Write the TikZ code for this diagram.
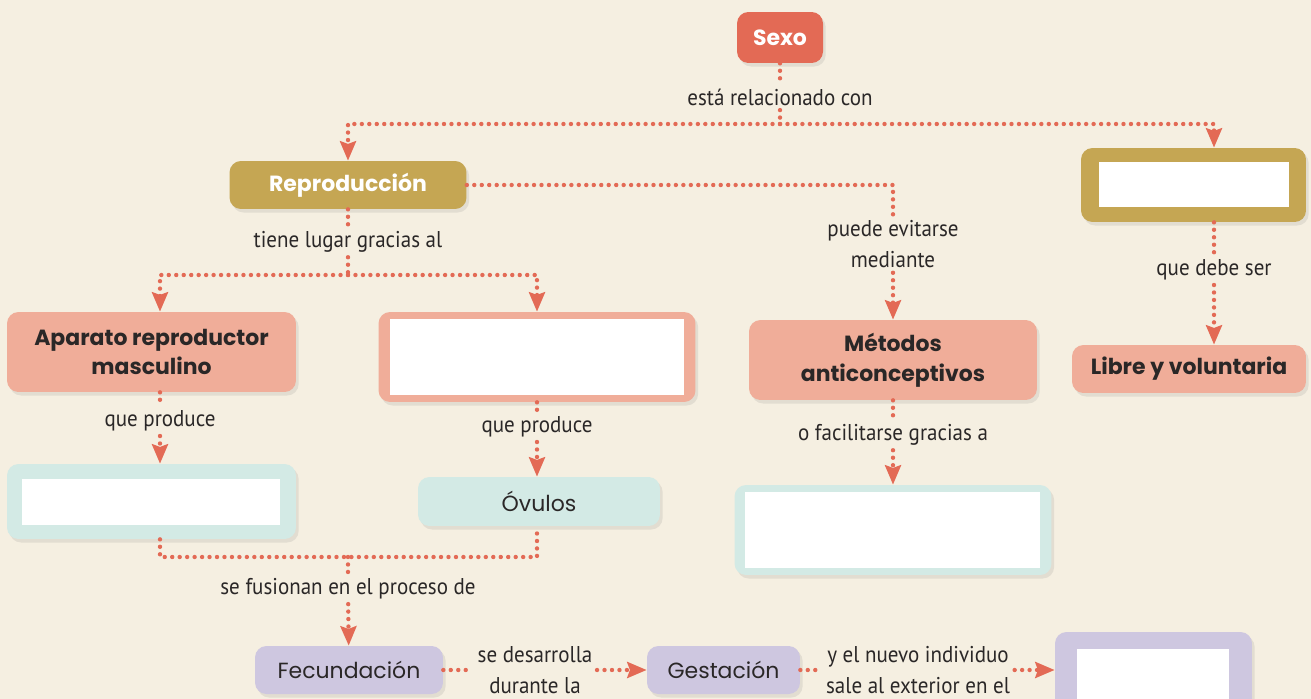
\documentclass[tikz,border=0pt]{standalone}
\usepackage{fontspec}
\setmainfont{Poppins}
\newfontfamily\labelfont[FakeStretch=0.92]{PT Sans}
\definecolor{MAPcream}{HTML}{F5EFE1}
\definecolor{MAPcoral}{HTML}{E36A55}
\definecolor{MAPgold}{HTML}{C5A653}
\definecolor{MAPsalmon}{HTML}{F0AD99}
\definecolor{MAPmint}{HTML}{D3EAE5}
\definecolor{MAPlilac}{HTML}{CEC7E0}
\definecolor{MAPink}{HTML}{2A2727}
\usetikzlibrary{arrows.meta, shadows}
\newcommand\boxtext{\fontsize{12.5}{17}\selectfont}
\newcommand\labeltext{\labelfont\fontsize{13}{18}\selectfont}
\tikzset{
   box/.style={rounded corners=6.5pt, inner sep=0pt, align=center, text=MAPink,
      font=\boxtext, drop shadow={opacity=0.16, shadow xshift=1.5pt, shadow yshift=-2pt}},
   blank/.style={fill=white, inner sep=0pt},
   lab/.style={font=\labeltext, text=MAPink, align=center, inner sep=2.5pt},
   dots/.style={MAPcoral, line width=2.5pt, line cap=round, dash pattern=on 0pt off 4.25pt},
   tip/.style={-{Stealth[length=11pt, width=9pt, inset=1.5pt]}}
}

\begin{document}
\begin{tikzpicture}[x=0.02cm, y=-0.02cm]
   \fill[MAPcream] (0,0) rectangle (1311,699);
   \useasboundingbox (0,0) rectangle (1311,699);
   % concept boxes
   \node[box, fill=MAPcoral, text=white, font=\boxtext\bfseries,
      minimum width=1.72cm, minimum height=1.02cm] (sexo) at (780,37.5) {Sexo};
   \node[box, fill=MAPgold, text=white, font=\boxtext\bfseries,
      minimum width=4.74cm, minimum height=0.96cm] (repro) at (348,185) {Reproducción};
   \node[box, fill=MAPgold, minimum width=4.5cm, minimum height=1.48cm] (salud) at (1193.5,185) {};
   \node[blank, minimum width=3.8cm, minimum height=0.9cm] (saludin) at (1194,184.5) {};
   \node[box, fill=MAPsalmon, font=\boxtext\bfseries,
      minimum width=4.68cm, minimum height=0.96cm] (libre) at (1189,369) {Libre y voluntaria};
   \node[box, fill=MAPsalmon, font=\boxtext\bfseries,
      minimum width=5.78cm, minimum height=1.6cm] (aparato) at (151.5,352) {Aparato reproductor\\masculino};
   \node[box, fill=MAPsalmon, minimum width=6.34cm, minimum height=1.8cm] (femen) at (537,357) {};
   \node[blank, minimum width=5.9cm, minimum height=1.52cm] (femenin) at (537,357) {};
   \node[box, fill=MAPsalmon, font=\boxtext\bfseries,
      minimum width=5.76cm, minimum height=1.6cm] (metodos) at (893,360) {Métodos\\anticonceptivos};
   \node[box, fill=MAPmint, minimum width=5.78cm, minimum height=1.5cm] (esperm) at (151.5,501.5) {};
   \node[blank, minimum width=5.16cm, minimum height=0.92cm] (espermin) at (151,502) {};
   \node[box, fill=MAPmint, minimum width=4.84cm, minimum height=0.98cm] (ovulos) at (539,501.5) {Óvulos};
   \node[box, fill=MAPmint, minimum width=6.34cm, minimum height=1.8cm] (metodo) at (893,530) {};
   \node[blank, minimum width=5.9cm, minimum height=1.52cm] (metodoin) at (892.5,530) {};
   \node[box, fill=MAPlilac, minimum width=3.76cm, minimum height=0.96cm] (fecund) at (349,670) {Fecundación};
   \node[box, fill=MAPlilac, minimum width=3.06cm, minimum height=0.96cm] (gestac) at (723.5,670) {Gestación};
   \node[box, fill=MAPlilac, minimum width=3.94cm, minimum height=1.86cm] (parto) at (1153.5,678.5) {};
   \node[blank, minimum width=3.04cm, minimum height=1.18cm] (partoin) at (1153,678.5) {};
   % linking words
   \node[lab] (rel) at (780,97) {está relacionado con};
   \node[lab] (lugar) at (348,242) {tiene lugar gracias al};
   \node[lab] (evitar) at (893,244) {puede evitarse\\mediante};
   \node[lab] (debe) at (1214,270) {que debe ser};
   \node[lab] (que1) at (160,421) {que produce};
   \node[lab] (que2) at (537,427) {que produce};
   \node[lab] (facil) at (893,435) {o facilitarse gracias a};
   \node[lab] (fusion) at (348,589) {se fusionan en el proceso de};
   \node[lab] (desarr) at (535,670) {se desarrolla\\durante la};
   \node[lab] (nuevo) at (918,670) {y el nuevo individuo\\sale al exterior en el};
   % connectors
   \coordinate (j1) at (780,124);
   \coordinate (j2) at (348,275);
   \coordinate (j3) at (348,557);
   \draw[dots] (sexo) -- (rel);
   \draw[dots] (rel) -- (j1);
   \draw[dots, tip] (j1) -| (repro);
   \draw[dots, tip] (j1) -| (debe |- salud.north);
   \draw[dots] (debe |- salud.south) -- (debe);
   \draw[dots, tip] (debe) -- (debe |- libre.north);
   \draw[dots] (repro.east) -| (evitar);
   \draw[dots, tip] (evitar) -- (metodos);
   \draw[dots] (metodos) -- (facil);
   \draw[dots, tip] (facil) -- (metodo);
   \draw[dots] (repro) -- (lugar);
   \draw[dots] (lugar) -- (j2);
   \draw[dots, tip] (j2) -| (que1 |- aparato.north);
   \draw[dots, tip] (j2) -| (femen);
   \draw[dots] (que1 |- aparato.south) -- (que1);
   \draw[dots, tip] (que1) -- (que1 |- esperm.north);
   \draw[dots] (femen) -- (que2);
   \draw[dots, tip] (que2) -- (que2 |- ovulos.north);
   \draw[dots] (que1 |- esperm.south) |- (j3) -| (que2 |- ovulos.south);
   \draw[dots] (j3) -- (fusion);
   \draw[dots, tip] (fusion) -- (fecund);
   \draw[dots] (fecund) -- (desarr);
   \draw[dots, tip] (desarr) -- (gestac);
   \draw[dots] (gestac) -- (nuevo);
   \draw[dots, tip] (nuevo) -- (nuevo -| parto.west);
\end{tikzpicture}
\end{document}
